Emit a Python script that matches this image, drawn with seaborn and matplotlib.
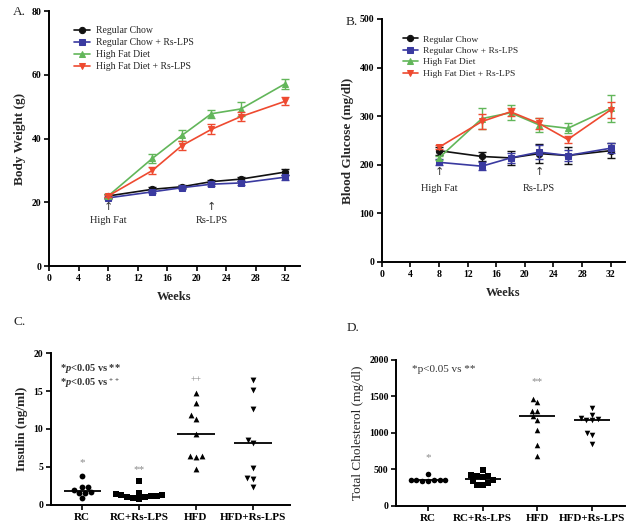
import numpy as np
import pandas as pd
import matplotlib
matplotlib.use("Agg")
import matplotlib.pyplot as plt
import seaborn as sns

sns.set_style("ticks")
plt.rcParams['font.family'] = ['Liberation Serif', 'DejaVu Serif']
plt.rcParams['mathtext.fontset'] = 'custom'
plt.rcParams['mathtext.rm'] = 'Liberation Serif:bold'
plt.rcParams['mathtext.it'] = 'Liberation Serif:italic:bold'

# ---------------- data ----------------
weeks = [8, 14, 18, 22, 26, 32]
series_names = ["Regular Chow", "Regular Chow + Rs-LPS", "High Fat Diet", "High Fat Diet + Rs-LPS"]

bw_rc = [22.0, 24.1, 24.9, 26.5, 27.3, 29.5]
bw_rc_lps = [21.4, 23.3, 24.6, 25.7, 26.1, 27.9]
bw_hfd = [22.0, 33.8, 41.0, 47.8, 49.3, 57.2]
bw_hfd_lps = [22.0, 30.0, 37.8, 42.9, 46.9, 51.7]
bw_rc_err = [0.5, 0.6, 0.5, 0.6, 0.6, 0.9]
bw_rc_lps_err = [0.4, 0.5, 0.5, 0.5, 0.6, 0.8]
bw_hfd_err = [0.5, 1.3, 1.6, 1.3, 2.3, 1.6]
bw_hfd_lps_err = [0.4, 1.0, 1.5, 1.6, 1.3, 1.2]

bg_rc = [229, 217, 214, 223, 219, 229]
bg_rc_lps = [205, 197, 214, 226, 219, 234]
bg_hfd = [214, 295, 307, 282, 275, 316]
bg_hfd_lps = [236, 289, 309, 285, 252, 313]
bg_rc_err = [8, 10, 14, 20, 17, 15]
bg_rc_lps_err = [6, 8, 10, 15, 12, 10]
bg_hfd_err = [5, 22, 15, 15, 10, 28]
bg_hfd_lps_err = [4, 15, 8, 12, 8, 17]

groups = ["RC", "RC+Rs-LPS", "HFD", "HFD+Rs-LPS"]
ins_rc = [3.8, 2.4, 2.4, 1.9, 1.7, 1.6, 1.5, 0.85]
ins_rc_lps = [3.2, 1.6, 1.4, 1.3, 1.2, 1.2, 1.1, 1.0, 0.9, 0.8, 1.3]
ins_hfd = [14.7, 13.4, 11.8, 11.3, 9.3, 6.4, 6.3, 6.5, 4.7]
ins_hfd_lps = [16.4, 15.2, 12.6, 8.6, 8.1, 4.9, 3.5, 3.4, 2.4]

chol_rc = [440, 350, 350, 345, 350, 345, 350, 355]
chol_rc_lps = [350, 400, 320, 420, 285, 410, 285, 415, 340, 490]
chol_hfd = [1462, 1417, 1297, 1307, 1228, 1183, 1045, 829, 678]
chol_hfd_lps = [1251, 1196, 1342, 1173, 1173, 1205, 998, 976, 852]

# ---------------- style ----------------
colors = ["#111111", "#3a3aa0", "#62b65a", "#ee4a30"]
markers = ["o", "s", "^", "v"]
grp_markers = ["o", "s", "^", "v"]
star_col = "#8a8a8a"
txt_col = "#333333"

fig = plt.figure(figsize=(6.3, 5.27), dpi=100)

axA = fig.add_axes([0.078, 0.495, 0.398, 0.484])
axB = fig.add_axes([0.606, 0.503, 0.386, 0.461])
axC = fig.add_axes([0.081, 0.042, 0.379, 0.288])
axD = fig.add_axes([0.629, 0.040, 0.363, 0.277])


def style_axis(ax, fs=7):
    sns.despine(ax=ax)
    for s in ["left", "bottom"]:
        ax.spines[s].set_linewidth(1.4)
        ax.spines[s].set_color("black")
    ax.tick_params(width=1.2, length=3.5, labelsize=fs, pad=2, colors="black")
    for lab in ax.get_xticklabels() + ax.get_yticklabels():
        lab.set_fontweight("bold")


def line_panel(ax, vals, errs, ylabel, ylim, yticks, arrow_y, lo_text, legend_fs, legend_anchor):
    for name, v, e, c, m in zip(series_names, vals, errs, colors, markers):
        df = pd.DataFrame({"Weeks": weeks, "val": v})
        sns.lineplot(data=df, x="Weeks", y="val", color=c, marker=m, markersize=4.5,
                     markeredgecolor=c, linewidth=1.2, label=name, ax=ax)
        ax.errorbar(weeks, v, yerr=e, fmt="none", ecolor=c, elinewidth=1.0, capsize=3, capthick=1.0)
    ax.set_xlim(0, 34)
    ax.set_xticks(range(0, 33, 4))
    ax.set_ylim(*ylim)
    ax.set_yticks(yticks)
    ax.set_xlabel("Weeks", fontsize=9, fontweight="bold", labelpad=6)
    ax.set_ylabel(ylabel, fontsize=9.5, fontweight="bold", labelpad=4)
    ax.legend(loc="upper left", bbox_to_anchor=legend_anchor, frameon=False, fontsize=legend_fs,
              handlelength=1.6, handletextpad=0.6, labelspacing=0.3, borderaxespad=0)
    for wk, lab in [(8, "High Fat"), (22, "Rs-LPS")]:
        ax.text(wk, arrow_y, "\u2191", ha="center", va="center", fontsize=8, color="#333333",
                family=["DejaVu Sans"])
        ax.text(wk, lo_text, lab, ha="center", va="center", fontsize=7.5, color="#222222")
    style_axis(ax)


line_panel(axA, [bw_rc, bw_rc_lps, bw_hfd, bw_hfd_lps],
           [bw_rc_err, bw_rc_lps_err, bw_hfd_err, bw_hfd_lps_err],
           "Body Weight (g)", (0, 80), [0, 20, 40, 60, 80], 18.5, 14.3, 7.0, (0.085, 0.955))
line_panel(axB, [bg_rc, bg_rc_lps, bg_hfd, bg_hfd_lps],
           [bg_rc_err, bg_rc_lps_err, bg_hfd_err, bg_hfd_lps_err],
           "Blood Glucose (mg/dl)", (0, 500), [0, 100, 200, 300, 400, 500], 185, 152, 6.8, (0.07, 0.95))


def scatter_panel(ax, data_lists, ylabel, ylim, yticks, xlim, size):
    for i, (g, d, m) in enumerate(zip(groups, data_lists, grp_markers)):
        df = pd.DataFrame({"group": [g] * len(d), "val": d})
        sns.swarmplot(data=df, x="group", y="val", order=groups, marker=m, color="black",
                      size=size, ax=ax, zorder=3)
        med = float(np.median(d))
        ax.hlines(med, i - 0.33, i + 0.33, color="black", linewidth=1.3, zorder=4)
    ax.set_xlim(*xlim)
    ax.set_ylim(*ylim)
    ax.set_yticks(yticks)
    ax.set_xlabel("")
    ax.set_ylabel(ylabel, fontsize=9.5, fontweight="bold", labelpad=4)
    style_axis(ax, fs=7)
    ax.tick_params(axis="x", labelsize=8)
    for lab in ax.get_xticklabels():
        lab.set_fontweight("bold")


scatter_panel(axC, [ins_rc, ins_rc_lps, ins_hfd, ins_hfd_lps], "Insulin (ng/ml)",
              (0, 20), [0, 5, 10, 15, 20], (-0.55, 3.65), 4.2)
axC.text(0, 5.6, "*", ha="center", va="center", fontsize=8, color=star_col)
axC.text(1, 4.7, "**", ha="center", va="center", fontsize=8, color=star_col)
axC.text(2, 16.5, "++", ha="center", va="center", fontsize=7, color=star_col)
axC.text(-0.4, 18.0, r"*$\it{p}$<0.05 vs **", ha="left", va="center", fontsize=7.5,
         color=txt_col, fontweight="bold")
axC.text(-0.4, 16.0, r"*$\it{p}$<0.05 vs $^{++}$", ha="left", va="center", fontsize=7.5,
         color=txt_col, fontweight="bold")

scatter_panel(axD, [chol_rc, chol_rc_lps, chol_hfd, chol_hfd_lps], "Total Cholesterol (mg/dl)",
              (0, 2000), [0, 500, 1000, 1500, 2000], (-0.58, 3.6), 4.0)
axD.text(0, 660, "*", ha="center", va="center", fontsize=8, color=star_col)
axD.text(2, 1700, "**", ha="center", va="center", fontsize=8, color=star_col)
axD.text(-0.3, 1870, "*p<0.05 vs **", ha="left", va="center", fontsize=8, color=txt_col)
axD.set_ylabel("Total Cholesterol (mg/dl)", fontsize=9.5, fontweight="normal", labelpad=4)

fig.text(13 / 630, 1 - 12 / 527, "A.", fontsize=9.5, ha="left", va="center")
fig.text(346 / 630, 1 - 22 / 527, "B.", fontsize=9.5, ha="left", va="center")
fig.text(13 / 630, 1 - 322 / 527, "C.", fontsize=9.5, ha="left", va="center")
fig.text(347 / 630, 1 - 328 / 527, "D.", fontsize=9.5, ha="left", va="center")

fig.savefig("out.png", dpi=100)
